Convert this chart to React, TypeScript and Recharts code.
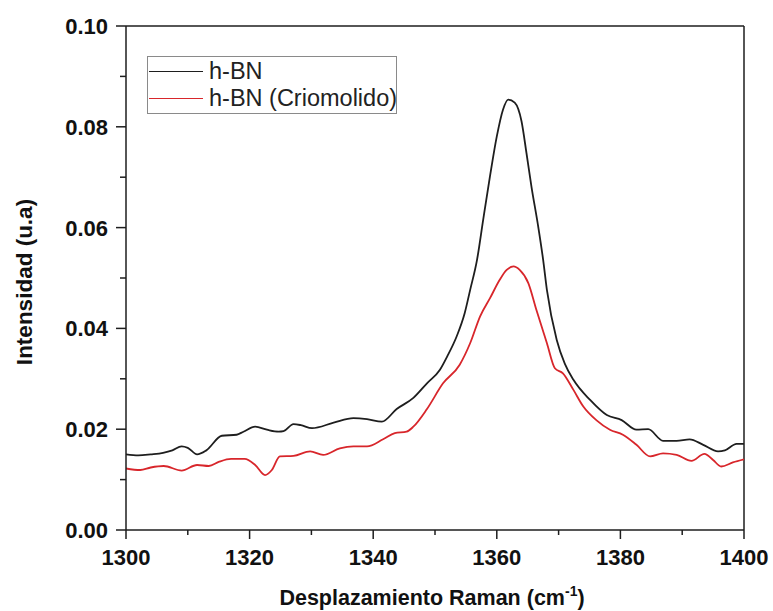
import React from 'react';
import { LineChart, Line, XAxis, YAxis, ReferenceLine, Legend } from 'recharts';

// h-BN spectrum
const hbnShift = [
  1300, 1302, 1304, 1306, 1307.5, 1309, 1310, 1311.5, 1313, 1315.5, 1317.9, 1319, 1320.9, 1322.8,
  1324.7, 1325.5, 1327.1, 1328.3, 1330.1, 1333.6, 1336.8, 1339, 1341.4, 1343.8, 1346.5, 1348.7,
  1350.8, 1352, 1353.5, 1354.8, 1355.7, 1356.8, 1357.8, 1358.9, 1360, 1361, 1361.85, 1362.9, 1364,
  1364.8, 1365.6, 1366.7, 1367.5, 1368.1, 1369.7, 1371, 1372.4, 1375.1, 1377.8, 1380.2, 1382.6,
  1384.5, 1386.9, 1389.1, 1391.2, 1393.4, 1395.8, 1396.9, 1398.8, 1400,
];
const hbnIntensity = [
  0.015, 0.0148, 0.015, 0.0153, 0.0158, 0.0166, 0.0163, 0.015, 0.0158, 0.0187, 0.0189, 0.0195, 0.0205, 0.0199,
  0.0195, 0.0196, 0.021, 0.0208, 0.0202, 0.0213, 0.0222, 0.022, 0.0215, 0.024, 0.0262, 0.0291,
  0.0318, 0.0345, 0.0384, 0.043, 0.0477, 0.0536, 0.0616, 0.0702, 0.0781, 0.0834, 0.0854, 0.0848, 0.0811,
  0.0748, 0.0682, 0.0602, 0.0536, 0.0477, 0.0377, 0.033, 0.0298, 0.0258, 0.0228, 0.0218, 0.0199,
  0.02, 0.0177, 0.0177, 0.018, 0.0169, 0.0156, 0.0158, 0.0171, 0.0171,
];

// h-BN (Criomolido) spectrum
const crioShift = [
  1300, 1302.3, 1304, 1306.1, 1309, 1311.5, 1313.4, 1315, 1317, 1319.2, 1320.9, 1322.5, 1323.6, 1324.9,
  1327.1, 1329.8, 1331.9, 1334.6, 1336.8, 1339, 1341.6, 1343.5, 1345.4, 1346.5, 1348.7, 1351.3,
  1354, 1355.7, 1357.3, 1358.9, 1360.5, 1361.6, 1362.7, 1363.7, 1365.1, 1366.4, 1368.1, 1369.4,
  1370.7, 1372.4, 1374, 1376.1, 1378.3, 1380.4, 1382.6, 1384.8, 1386.9, 1389.1, 1391.5, 1393.6,
  1395, 1396.3, 1398.2, 1400,
];
const crioIntensity = [
  0.0122, 0.0119, 0.0124, 0.0127, 0.0118, 0.0129, 0.0127, 0.0135, 0.0141, 0.0141, 0.0129, 0.0109, 0.0119, 0.0146,
  0.0147, 0.0156, 0.0149, 0.0162, 0.0166, 0.0166, 0.018, 0.0192, 0.0195, 0.0205, 0.024, 0.0291,
  0.0328, 0.0371, 0.0424, 0.046, 0.0497, 0.0516, 0.0523, 0.0516, 0.049, 0.0437, 0.0371, 0.0321,
  0.0311, 0.0278, 0.0245, 0.0218, 0.0199, 0.0189, 0.0169, 0.0146, 0.0152, 0.0149, 0.0137, 0.0151,
  0.0139, 0.0126, 0.0134, 0.014,
];

const xTicks = [1300, 1310, 1320, 1330, 1340, 1350, 1360, 1370, 1380, 1390, 1400];
const yTicks = [0, 0.01, 0.02, 0.03, 0.04, 0.05, 0.06, 0.07, 0.08, 0.09, 0.1];

const hbnData = hbnShift.map((x, i) => ({ x, y: hbnIntensity[i] }));
const crioData = crioShift.map((x, i) => ({ x, y: crioIntensity[i] }));

const FONT = '"Liberation Sans", Arial, sans-serif';
const AXIS = '#1e1e1e';
const BLACK = '#1e1e1e';
const RED = '#d8262b';

const XTick = (props: any) => {
  const { x, y, payload } = props;
  const major = Math.round(payload.value) % 20 === 0;
  return (
    <g>
      <line x1={x} x2={x} y1={y} y2={y + (major ? 9 : 5)} stroke={AXIS} strokeWidth={1.5} />
      {major && (
        <text x={x} y={y + 35} textAnchor="middle" fontFamily={FONT} fontWeight="bold" fontSize={22} fill="#111">
          {payload.value}
        </text>
      )}
    </g>
  );
};

const YTick = (props: any) => {
  const { x, y, payload } = props;
  const major = Math.round(payload.value * 100) % 2 === 0;
  return (
    <g>
      <line x1={x - (major ? 10 : 6)} x2={x} y1={y} y2={y} stroke={AXIS} strokeWidth={1.5} />
      {major && (
        <text x={x - 18} y={y + 8} textAnchor="end" fontFamily={FONT} fontWeight="bold" fontSize={22} fill="#111">
          {payload.value.toFixed(2)}
        </text>
      )}
    </g>
  );
};

const XLabel = (props: any) => {
  const { viewBox } = props;
  return (
    <text x={viewBox.x + viewBox.width / 2 - 3} y={viewBox.y + 75} textAnchor="middle" fontFamily={FONT} fontWeight="bold" fontSize={21.5} fill="#111">
      Desplazamiento Raman (cm
      <tspan fontSize={14} dy={-9}>-1</tspan>
      <tspan dy={9}>)</tspan>
    </text>
  );
};

const YLabel = (props: any) => {
  const { viewBox } = props;
  const cx = viewBox.x + 32;
  const cy = viewBox.y + viewBox.height / 2 + 4;
  return (
    <text x={cx} y={cy} transform={`rotate(-90 ${cx} ${cy})`} textAnchor="middle" fontFamily={FONT} fontWeight="bold" fontSize={22.5} fill="#111">
      Intensidad (u.a)
    </text>
  );
};

const legendItems = [
  { name: 'h-BN', color: BLACK },
  { name: 'h-BN (Criomolido)', color: RED },
];

const LegendBox = () => (
  <div style={{ border: '1px solid #8a8a8a', width: 248, height: 55, background: '#fff', fontFamily: FONT, fontSize: 23.5, color: '#222', paddingTop: 1 }}>
    {legendItems.map((s) => (
      <div key={s.name} style={{ display: 'flex', alignItems: 'center', height: 27, whiteSpace: 'nowrap' }}>
        <div style={{ width: 54, flex: 'none', marginLeft: 1, borderTop: `1.5px solid ${s.color}`, marginRight: 6 }} />
        <span style={{ lineHeight: '27px' }}>{s.name}</span>
      </div>
    ))}
  </div>
);

export default function App() {
  return (
    <div style={{ position: 'absolute', left: 0, top: 0, background: '#fff' }}>
      <LineChart width={773} height={611} margin={{ top: 26, right: 29, left: 0, bottom: 0 }}>
        <XAxis
          dataKey="x"
          type="number"
          domain={[1300, 1400]}
          ticks={xTicks}
          allowDataOverflow
          height={81}
          tickSize={0}
          tickMargin={0}
          tickLine={false}
          tick={<XTick />}
          axisLine={{ stroke: AXIS, strokeWidth: 1.5 }}
          label={<XLabel />}
        />
        <YAxis
          type="number"
          domain={[0, 0.1]}
          ticks={yTicks}
          allowDataOverflow
          width={126}
          tickSize={0}
          tickMargin={0}
          tickLine={false}
          tick={<YTick />}
          axisLine={{ stroke: AXIS, strokeWidth: 1.5 }}
          label={<YLabel />}
        />
        <ReferenceLine y={0.1} stroke={AXIS} strokeWidth={1.5} />
        <ReferenceLine x={1400} stroke={AXIS} strokeWidth={1.5} />
        <Legend
          layout="vertical"
          align="center"
          verticalAlign="middle"
          wrapperStyle={{ left: 147, top: 56, width: 'auto', height: 'auto' }}
          content={<LegendBox />}
        />
        <Line data={hbnData} dataKey="y" name="h-BN" type="monotone" stroke={BLACK} strokeWidth={1.8} dot={false} activeDot={false} isAnimationActive={false} />
        <Line data={crioData} dataKey="y" name="h-BN (Criomolido)" type="monotone" stroke={RED} strokeWidth={1.8} dot={false} activeDot={false} isAnimationActive={false} />
      </LineChart>
    </div>
  );
}
